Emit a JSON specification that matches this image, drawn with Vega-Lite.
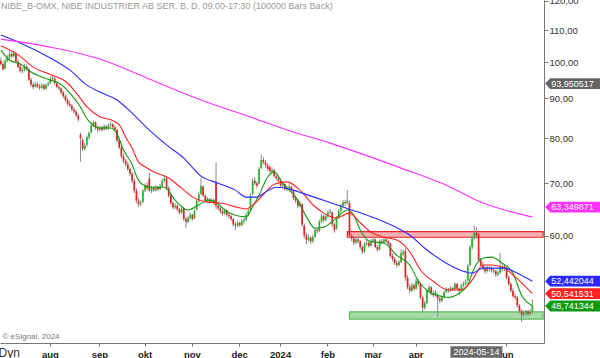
{
"$schema":"https://vega.github.io/schema/vega-lite/v6.json",
"width":544,"height":343,
"autosize":{"type":"none"},
"padding":{"left":0,"top":0,"right":56,"bottom":15},
"background":"white",
"title":{"text":"NIBE_B-OMX, NIBE INDUSTRIER AB SER. B, D, 09:00-17:30 (100000 Bars Back)","anchor":"start","frame":"group","offset":-15,"fontSize":9,"fontWeight":"normal","color":"#9a9a9a","font":"Liberation Sans","dx":1},
"config":{"view":{"stroke":null},"font":"Liberation Sans"},
"datasets":{
"px":[
{"d":"2023-06-29","o":100.5,"h":101.5,"l":99.0,"c":99.5},
{"d":"2023-06-30","o":99.5,"h":100.2,"l":97.6,"c":98.0},
{"d":"2023-07-03","o":98.2,"h":101.0,"l":98.0,"c":100.5},
{"d":"2023-07-04","o":100.5,"h":102.2,"l":100.0,"c":101.5},
{"d":"2023-07-05","o":101.5,"h":103.4,"l":101.0,"c":102.5},
{"d":"2023-07-06","o":102.5,"h":103.0,"l":101.2,"c":101.8},
{"d":"2023-07-07","o":101.8,"h":103.6,"l":101.5,"c":102.8},
{"d":"2023-07-10","o":102.6,"h":103.0,"l":99.8,"c":100.2},
{"d":"2023-07-11","o":100.2,"h":100.8,"l":98.2,"c":98.6},
{"d":"2023-07-12","o":98.8,"h":99.5,"l":97.0,"c":97.5},
{"d":"2023-07-13","o":97.5,"h":98.6,"l":96.8,"c":97.8},
{"d":"2023-07-14","o":97.8,"h":99.6,"l":97.4,"c":98.8},
{"d":"2023-07-17","o":98.8,"h":99.4,"l":97.6,"c":98.2},
{"d":"2023-07-18","o":98.0,"h":98.3,"l":94.6,"c":95.0},
{"d":"2023-07-19","o":95.0,"h":95.6,"l":93.0,"c":93.6},
{"d":"2023-07-20","o":93.6,"h":94.2,"l":92.4,"c":93.0},
{"d":"2023-07-21","o":93.0,"h":94.5,"l":92.8,"c":93.8},
{"d":"2023-07-24","o":93.8,"h":94.3,"l":92.7,"c":93.2},
{"d":"2023-07-25","o":93.2,"h":93.8,"l":92.2,"c":92.8},
{"d":"2023-07-26","o":92.8,"h":94.0,"l":92.5,"c":93.4},
{"d":"2023-07-27","o":93.4,"h":93.9,"l":92.0,"c":92.5},
{"d":"2023-07-28","o":92.5,"h":94.0,"l":92.3,"c":93.6},
{"d":"2023-07-31","o":93.6,"h":94.6,"l":93.2,"c":94.0},
{"d":"2023-08-01","o":94.0,"h":95.9,"l":93.8,"c":95.2},
{"d":"2023-08-02","o":95.2,"h":96.4,"l":94.8,"c":95.6},
{"d":"2023-08-03","o":95.4,"h":95.7,"l":93.6,"c":94.0},
{"d":"2023-08-04","o":94.0,"h":94.6,"l":92.6,"c":93.0},
{"d":"2023-08-07","o":93.0,"h":93.6,"l":92.0,"c":92.6},
{"d":"2023-08-08","o":92.6,"h":92.9,"l":91.0,"c":91.5},
{"d":"2023-08-09","o":91.5,"h":92.0,"l":90.0,"c":90.5},
{"d":"2023-08-10","o":90.5,"h":91.0,"l":89.0,"c":89.5},
{"d":"2023-08-11","o":89.5,"h":90.0,"l":88.0,"c":88.5},
{"d":"2023-08-14","o":88.5,"h":89.3,"l":87.5,"c":88.0},
{"d":"2023-08-15","o":88.0,"h":88.4,"l":86.6,"c":87.0},
{"d":"2023-08-16","o":87.0,"h":87.6,"l":86.0,"c":86.5},
{"d":"2023-08-17","o":86.5,"h":86.9,"l":85.0,"c":85.5},
{"d":"2023-08-18","o":85.5,"h":86.0,"l":84.0,"c":84.5},
{"d":"2023-08-21","o":80.8,"h":81.3,"l":74.6,"c":80.0},
{"d":"2023-08-22","o":79.5,"h":80.0,"l":77.0,"c":77.5},
{"d":"2023-08-23","o":77.5,"h":78.8,"l":77.0,"c":78.2},
{"d":"2023-08-24","o":78.4,"h":80.6,"l":78.0,"c":80.2},
{"d":"2023-08-25","o":80.2,"h":81.6,"l":79.6,"c":81.2},
{"d":"2023-08-28","o":81.4,"h":83.4,"l":81.0,"c":83.0},
{"d":"2023-08-29","o":83.0,"h":84.3,"l":82.6,"c":83.8},
{"d":"2023-08-30","o":83.8,"h":84.0,"l":82.0,"c":82.5},
{"d":"2023-08-31","o":82.5,"h":83.0,"l":81.4,"c":82.0},
{"d":"2023-09-01","o":82.0,"h":83.0,"l":81.6,"c":82.5},
{"d":"2023-09-04","o":82.5,"h":82.9,"l":81.5,"c":82.0},
{"d":"2023-09-05","o":82.0,"h":83.3,"l":81.8,"c":82.8},
{"d":"2023-09-06","o":82.8,"h":83.2,"l":81.9,"c":82.3},
{"d":"2023-09-07","o":82.3,"h":83.5,"l":82.0,"c":83.0},
{"d":"2023-09-08","o":83.0,"h":84.0,"l":82.7,"c":83.3},
{"d":"2023-09-11","o":83.3,"h":83.6,"l":82.2,"c":82.6},
{"d":"2023-09-12","o":82.6,"h":83.0,"l":81.6,"c":82.0},
{"d":"2023-09-13","o":82.0,"h":82.2,"l":79.0,"c":79.5},
{"d":"2023-09-14","o":79.5,"h":80.0,"l":77.4,"c":77.8},
{"d":"2023-09-15","o":77.8,"h":78.2,"l":75.4,"c":75.8},
{"d":"2023-09-18","o":75.8,"h":76.4,"l":74.3,"c":74.8},
{"d":"2023-09-19","o":74.8,"h":75.2,"l":73.5,"c":74.0},
{"d":"2023-09-20","o":74.0,"h":74.5,"l":72.6,"c":73.0},
{"d":"2023-09-21","o":73.0,"h":73.4,"l":71.5,"c":72.0},
{"d":"2023-09-22","o":72.0,"h":72.4,"l":70.0,"c":70.5},
{"d":"2023-09-25","o":70.5,"h":71.0,"l":68.0,"c":68.5},
{"d":"2023-09-26","o":68.5,"h":69.0,"l":66.0,"c":66.5},
{"d":"2023-09-27","o":66.5,"h":67.0,"l":65.3,"c":65.8},
{"d":"2023-09-28","o":65.8,"h":66.6,"l":65.4,"c":66.0},
{"d":"2023-09-29","o":66.2,"h":68.8,"l":66.0,"c":68.5},
{"d":"2023-10-02","o":68.5,"h":70.0,"l":68.2,"c":69.5},
{"d":"2023-10-03","o":69.5,"h":70.2,"l":68.6,"c":69.0},
{"d":"2023-10-04","o":71.0,"h":72.2,"l":68.2,"c":68.5},
{"d":"2023-10-05","o":68.5,"h":69.5,"l":68.0,"c":69.0},
{"d":"2023-10-06","o":69.0,"h":69.4,"l":68.2,"c":68.6},
{"d":"2023-10-09","o":68.6,"h":69.6,"l":68.3,"c":69.2},
{"d":"2023-10-10","o":69.2,"h":69.5,"l":68.4,"c":68.8},
{"d":"2023-10-11","o":68.8,"h":69.9,"l":68.6,"c":69.4},
{"d":"2023-10-12","o":69.4,"h":71.0,"l":69.2,"c":70.5},
{"d":"2023-10-13","o":70.5,"h":71.6,"l":70.2,"c":71.0},
{"d":"2023-10-16","o":71.0,"h":71.3,"l":68.7,"c":69.0},
{"d":"2023-10-17","o":69.0,"h":69.4,"l":67.1,"c":67.5},
{"d":"2023-10-18","o":67.5,"h":67.9,"l":65.6,"c":66.0},
{"d":"2023-10-19","o":66.0,"h":66.4,"l":64.8,"c":65.2},
{"d":"2023-10-20","o":65.2,"h":66.0,"l":64.9,"c":65.5},
{"d":"2023-10-23","o":65.5,"h":65.8,"l":64.4,"c":64.8},
{"d":"2023-10-24","o":64.8,"h":65.1,"l":63.8,"c":64.2},
{"d":"2023-10-25","o":64.2,"h":65.5,"l":64.0,"c":65.0},
{"d":"2023-10-26","o":65.0,"h":65.2,"l":62.6,"c":63.0},
{"d":"2023-10-27","o":63.0,"h":63.4,"l":61.4,"c":62.5},
{"d":"2023-10-30","o":62.5,"h":63.6,"l":62.2,"c":63.2},
{"d":"2023-10-31","o":63.2,"h":64.2,"l":62.9,"c":63.8},
{"d":"2023-11-01","o":63.8,"h":64.0,"l":62.7,"c":63.0},
{"d":"2023-11-02","o":63.2,"h":64.9,"l":63.0,"c":64.5},
{"d":"2023-11-03","o":64.8,"h":66.9,"l":64.6,"c":66.5},
{"d":"2023-11-06","o":66.5,"h":68.2,"l":66.2,"c":67.8},
{"d":"2023-11-07","o":67.8,"h":71.0,"l":67.6,"c":69.5},
{"d":"2023-11-08","o":69.3,"h":69.6,"l":67.2,"c":67.5},
{"d":"2023-11-09","o":67.5,"h":67.8,"l":66.2,"c":66.5},
{"d":"2023-11-10","o":66.5,"h":67.2,"l":66.1,"c":66.8},
{"d":"2023-11-13","o":66.8,"h":67.0,"l":65.9,"c":66.2},
{"d":"2023-11-14","o":66.2,"h":67.0,"l":66.0,"c":66.6},
{"d":"2023-11-15","o":66.6,"h":66.9,"l":65.7,"c":66.0},
{"d":"2023-11-16","o":70.3,"h":74.5,"l":64.9,"c":65.5},
{"d":"2023-11-17","o":65.5,"h":66.3,"l":64.6,"c":65.0},
{"d":"2023-11-20","o":65.0,"h":65.4,"l":64.0,"c":64.5},
{"d":"2023-11-21","o":64.5,"h":64.8,"l":63.6,"c":64.0},
{"d":"2023-11-22","o":64.0,"h":65.0,"l":63.8,"c":64.6},
{"d":"2023-11-23","o":64.6,"h":64.9,"l":63.4,"c":63.8},
{"d":"2023-11-24","o":63.8,"h":64.1,"l":63.1,"c":63.5},
{"d":"2023-11-27","o":63.5,"h":63.8,"l":62.6,"c":63.0},
{"d":"2023-11-28","o":63.0,"h":63.2,"l":61.6,"c":62.0},
{"d":"2023-11-29","o":62.0,"h":62.4,"l":61.0,"c":61.8},
{"d":"2023-11-30","o":61.8,"h":62.7,"l":61.5,"c":62.3},
{"d":"2023-12-01","o":62.3,"h":62.5,"l":61.5,"c":61.9},
{"d":"2023-12-04","o":61.9,"h":63.0,"l":61.6,"c":62.6},
{"d":"2023-12-05","o":62.6,"h":63.2,"l":62.1,"c":62.8},
{"d":"2023-12-06","o":62.8,"h":64.2,"l":62.6,"c":63.8},
{"d":"2023-12-07","o":63.8,"h":64.9,"l":63.5,"c":64.5},
{"d":"2023-12-08","o":64.6,"h":68.0,"l":64.4,"c":67.5},
{"d":"2023-12-11","o":67.8,"h":71.0,"l":67.6,"c":70.5},
{"d":"2023-12-12","o":70.5,"h":71.2,"l":69.6,"c":70.0},
{"d":"2023-12-13","o":70.0,"h":70.4,"l":69.0,"c":69.5},
{"d":"2023-12-14","o":70.0,"h":73.4,"l":69.8,"c":73.0},
{"d":"2023-12-15","o":73.2,"h":76.2,"l":73.0,"c":75.0},
{"d":"2023-12-18","o":75.0,"h":75.6,"l":74.0,"c":74.5},
{"d":"2023-12-19","o":74.5,"h":75.0,"l":73.3,"c":73.8},
{"d":"2023-12-20","o":73.8,"h":74.2,"l":72.6,"c":73.0},
{"d":"2023-12-21","o":73.4,"h":73.8,"l":72.2,"c":72.5},
{"d":"2023-12-22","o":72.5,"h":73.4,"l":72.2,"c":72.8},
{"d":"2023-12-27","o":72.8,"h":73.0,"l":71.2,"c":71.5},
{"d":"2023-12-28","o":71.5,"h":72.0,"l":70.6,"c":71.0},
{"d":"2023-12-29","o":71.0,"h":71.4,"l":70.2,"c":70.5},
{"d":"2024-01-02","o":70.5,"h":71.0,"l":69.2,"c":69.5},
{"d":"2024-01-03","o":69.5,"h":70.3,"l":69.0,"c":69.8},
{"d":"2024-01-04","o":69.8,"h":70.0,"l":68.5,"c":68.8},
{"d":"2024-01-05","o":68.8,"h":69.5,"l":68.4,"c":69.0},
{"d":"2024-01-08","o":69.0,"h":69.8,"l":68.7,"c":69.3},
{"d":"2024-01-09","o":69.3,"h":69.5,"l":68.1,"c":68.5},
{"d":"2024-01-10","o":68.5,"h":68.7,"l":66.6,"c":67.0},
{"d":"2024-01-11","o":67.0,"h":67.4,"l":66.0,"c":66.5},
{"d":"2024-01-12","o":66.5,"h":66.8,"l":65.1,"c":65.5},
{"d":"2024-01-15","o":65.5,"h":66.3,"l":65.2,"c":65.8},
{"d":"2024-01-16","o":65.8,"h":66.0,"l":61.6,"c":62.0},
{"d":"2024-01-17","o":61.8,"h":62.2,"l":59.5,"c":60.0},
{"d":"2024-01-18","o":60.0,"h":60.5,"l":58.5,"c":59.2},
{"d":"2024-01-19","o":59.2,"h":60.2,"l":58.9,"c":59.6},
{"d":"2024-01-22","o":59.6,"h":59.9,"l":58.5,"c":59.0},
{"d":"2024-01-23","o":59.0,"h":60.2,"l":58.7,"c":59.8},
{"d":"2024-01-24","o":59.8,"h":61.3,"l":59.6,"c":61.0},
{"d":"2024-01-25","o":61.0,"h":61.4,"l":60.4,"c":60.8},
{"d":"2024-01-26","o":60.8,"h":62.9,"l":60.6,"c":62.5},
{"d":"2024-01-29","o":62.5,"h":64.0,"l":62.2,"c":63.5},
{"d":"2024-01-30","o":63.5,"h":63.8,"l":62.4,"c":62.8},
{"d":"2024-01-31","o":62.8,"h":63.9,"l":62.6,"c":63.5},
{"d":"2024-02-01","o":63.5,"h":64.6,"l":63.2,"c":64.2},
{"d":"2024-02-02","o":64.2,"h":64.9,"l":63.9,"c":64.4},
{"d":"2024-02-05","o":64.2,"h":64.4,"l":61.6,"c":62.0},
{"d":"2024-02-06","o":62.0,"h":62.3,"l":60.5,"c":61.0},
{"d":"2024-02-07","o":61.2,"h":63.5,"l":61.0,"c":63.2},
{"d":"2024-02-08","o":63.2,"h":64.9,"l":63.0,"c":64.5},
{"d":"2024-02-09","o":64.5,"h":65.9,"l":64.2,"c":65.5},
{"d":"2024-02-12","o":65.5,"h":66.6,"l":65.2,"c":66.2},
{"d":"2024-02-13","o":66.2,"h":66.7,"l":65.5,"c":66.0},
{"d":"2024-02-14","o":66.0,"h":68.6,"l":65.8,"c":66.5},
{"d":"2024-02-15","o":66.0,"h":66.5,"l":59.5,"c":60.0},
{"d":"2024-02-16","o":60.0,"h":60.4,"l":59.0,"c":59.5},
{"d":"2024-02-19","o":59.5,"h":59.9,"l":58.3,"c":58.8},
{"d":"2024-02-20","o":58.8,"h":59.7,"l":58.5,"c":59.3},
{"d":"2024-02-21","o":59.3,"h":59.6,"l":58.6,"c":59.0},
{"d":"2024-02-22","o":59.0,"h":59.2,"l":57.6,"c":58.0},
{"d":"2024-02-23","o":58.0,"h":58.3,"l":56.8,"c":57.2},
{"d":"2024-02-26","o":57.2,"h":58.9,"l":57.0,"c":58.5},
{"d":"2024-02-27","o":58.5,"h":59.2,"l":58.2,"c":58.7},
{"d":"2024-02-28","o":58.7,"h":59.0,"l":57.9,"c":58.2},
{"d":"2024-02-29","o":58.2,"h":59.4,"l":58.0,"c":59.0},
{"d":"2024-03-01","o":59.0,"h":59.8,"l":58.7,"c":59.3},
{"d":"2024-03-04","o":59.3,"h":59.5,"l":57.8,"c":58.0},
{"d":"2024-03-05","o":58.0,"h":58.3,"l":57.2,"c":57.5},
{"d":"2024-03-06","o":57.6,"h":59.3,"l":57.4,"c":59.0},
{"d":"2024-03-07","o":59.0,"h":59.4,"l":58.5,"c":58.8},
{"d":"2024-03-08","o":58.8,"h":59.7,"l":58.5,"c":59.3},
{"d":"2024-03-11","o":59.3,"h":59.6,"l":58.7,"c":59.0},
{"d":"2024-03-12","o":59.0,"h":59.3,"l":58.3,"c":58.6},
{"d":"2024-03-13","o":58.6,"h":58.8,"l":56.2,"c":56.5},
{"d":"2024-03-14","o":56.5,"h":56.9,"l":55.6,"c":56.0},
{"d":"2024-03-15","o":56.0,"h":56.3,"l":55.0,"c":55.3},
{"d":"2024-03-18","o":55.3,"h":55.7,"l":54.6,"c":55.0},
{"d":"2024-03-19","o":55.0,"h":55.8,"l":54.8,"c":55.5},
{"d":"2024-03-20","o":55.5,"h":57.6,"l":55.3,"c":57.0},
{"d":"2024-03-21","o":56.8,"h":57.6,"l":56.5,"c":57.2},
{"d":"2024-03-22","o":57.3,"h":57.8,"l":52.5,"c":53.0},
{"d":"2024-03-25","o":53.0,"h":53.4,"l":51.2,"c":51.5},
{"d":"2024-03-26","o":51.5,"h":52.0,"l":50.6,"c":51.0},
{"d":"2024-03-27","o":51.0,"h":52.2,"l":50.8,"c":51.8},
{"d":"2024-03-28","o":51.8,"h":52.1,"l":51.0,"c":51.3},
{"d":"2024-04-02","o":51.3,"h":52.9,"l":51.1,"c":52.5},
{"d":"2024-04-03","o":52.5,"h":52.8,"l":51.7,"c":52.0},
{"d":"2024-04-04","o":52.0,"h":52.2,"l":49.7,"c":50.0},
{"d":"2024-04-05","o":50.0,"h":50.3,"l":47.8,"c":48.5},
{"d":"2024-04-08","o":48.5,"h":49.5,"l":48.2,"c":49.2},
{"d":"2024-04-09","o":49.2,"h":51.3,"l":49.0,"c":51.0},
{"d":"2024-04-10","o":51.0,"h":51.9,"l":50.7,"c":51.5},
{"d":"2024-04-11","o":51.5,"h":51.7,"l":50.3,"c":50.6},
{"d":"2024-04-12","o":50.6,"h":51.0,"l":50.0,"c":50.3},
{"d":"2024-04-15","o":50.3,"h":51.1,"l":50.1,"c":50.8},
{"d":"2024-04-16","o":50.2,"h":50.6,"l":47.2,"c":49.8},
{"d":"2024-04-17","o":49.8,"h":50.1,"l":49.1,"c":49.5},
{"d":"2024-04-18","o":49.5,"h":50.3,"l":49.3,"c":50.0},
{"d":"2024-04-19","o":50.0,"h":51.0,"l":49.8,"c":50.8},
{"d":"2024-04-22","o":50.8,"h":51.5,"l":50.6,"c":51.2},
{"d":"2024-04-23","o":51.2,"h":51.4,"l":50.7,"c":51.0},
{"d":"2024-04-24","o":51.0,"h":51.7,"l":50.8,"c":51.4},
{"d":"2024-04-25","o":51.4,"h":51.6,"l":50.9,"c":51.2},
{"d":"2024-04-26","o":51.2,"h":52.3,"l":51.0,"c":52.0},
{"d":"2024-04-29","o":52.0,"h":52.2,"l":51.1,"c":51.3},
{"d":"2024-04-30","o":51.3,"h":51.5,"l":50.3,"c":51.0},
{"d":"2024-05-02","o":51.0,"h":52.1,"l":50.8,"c":51.8},
{"d":"2024-05-03","o":51.8,"h":52.4,"l":51.5,"c":52.0},
{"d":"2024-05-06","o":52.0,"h":52.7,"l":51.8,"c":52.4},
{"d":"2024-05-07","o":52.6,"h":55.2,"l":52.4,"c":54.8},
{"d":"2024-05-08","o":55.0,"h":58.3,"l":54.8,"c":58.0},
{"d":"2024-05-10","o":58.0,"h":60.0,"l":57.6,"c":59.5},
{"d":"2024-05-13","o":59.5,"h":61.8,"l":59.2,"c":60.5},
{"d":"2024-05-14","o":60.5,"h":61.5,"l":59.4,"c":60.0},
{"d":"2024-05-15","o":60.3,"h":60.6,"l":55.5,"c":55.8},
{"d":"2024-05-16","o":55.8,"h":56.2,"l":54.6,"c":55.0},
{"d":"2024-05-17","o":55.0,"h":55.5,"l":54.2,"c":54.5},
{"d":"2024-05-20","o":54.5,"h":54.8,"l":53.6,"c":54.0},
{"d":"2024-05-21","o":54.0,"h":54.9,"l":53.8,"c":54.6},
{"d":"2024-05-22","o":54.6,"h":54.9,"l":54.0,"c":54.5},
{"d":"2024-05-23","o":54.5,"h":54.8,"l":53.8,"c":54.2},
{"d":"2024-05-24","o":54.2,"h":54.5,"l":53.7,"c":54.0},
{"d":"2024-05-27","o":54.0,"h":54.2,"l":53.1,"c":53.5},
{"d":"2024-05-28","o":53.5,"h":54.1,"l":53.2,"c":53.8},
{"d":"2024-05-29","o":53.8,"h":57.0,"l":53.5,"c":54.5},
{"d":"2024-05-30","o":54.3,"h":55.1,"l":54.0,"c":54.8},
{"d":"2024-05-31","o":54.8,"h":55.0,"l":54.0,"c":54.5},
{"d":"2024-06-03","o":54.5,"h":54.7,"l":52.7,"c":53.0},
{"d":"2024-06-04","o":53.0,"h":53.3,"l":51.7,"c":52.0},
{"d":"2024-06-05","o":52.0,"h":52.3,"l":50.7,"c":51.0},
{"d":"2024-06-07","o":51.0,"h":51.4,"l":49.9,"c":50.2},
{"d":"2024-06-10","o":50.2,"h":50.6,"l":49.6,"c":50.0},
{"d":"2024-06-11","o":50.0,"h":50.2,"l":48.5,"c":48.8},
{"d":"2024-06-12","o":48.8,"h":49.0,"l":47.7,"c":48.0},
{"d":"2024-06-13","o":48.0,"h":48.3,"l":46.5,"c":47.5},
{"d":"2024-06-14","o":47.5,"h":48.1,"l":47.2,"c":47.8},
{"d":"2024-06-17","o":47.8,"h":48.2,"l":47.4,"c":48.0},
{"d":"2024-06-18","o":48.0,"h":48.2,"l":47.3,"c":47.6},
{"d":"2024-06-19","o":47.6,"h":48.3,"l":47.4,"c":47.9},
{"d":"2024-06-20","o":47.9,"h":49.7,"l":47.6,"c":48.8}
],
"ma":[
{"d":"2023-06-29","s":"ma10","v":103.7},{"d":"2023-07-05","s":"ma10","v":100.7},{"d":"2023-07-12","s":"ma10","v":99.5},{"d":"2023-07-19","s":"ma10","v":97.2},{"d":"2023-08-01","s":"ma10","v":94.9},{"d":"2023-08-07","s":"ma10","v":94.1},{"d":"2023-08-14","s":"ma10","v":91.4},{"d":"2023-08-18","s":"ma10","v":88.5},{"d":"2023-08-25","s":"ma10","v":84.0},{"d":"2023-09-01","s":"ma10","v":82.4},{"d":"2023-09-08","s":"ma10","v":82.4},{"d":"2023-09-13","s":"ma10","v":81.0},{"d":"2023-09-18","s":"ma10","v":77.2},{"d":"2023-09-22","s":"ma10","v":74.0},{"d":"2023-09-26","s":"ma10","v":71.5},{"d":"2023-09-28","s":"ma10","v":70.0},{"d":"2023-10-05","s":"ma10","v":69.2},{"d":"2023-10-13","s":"ma10","v":69.2},{"d":"2023-10-20","s":"ma10","v":66.6},{"d":"2023-10-30","s":"ma10","v":64.7},{"d":"2023-11-06","s":"ma10","v":65.7},{"d":"2023-11-10","s":"ma10","v":66.6},{"d":"2023-11-16","s":"ma10","v":66.2},{"d":"2023-11-22","s":"ma10","v":64.7},{"d":"2023-11-29","s":"ma10","v":63.7},{"d":"2023-12-06","s":"ma10","v":63.4},{"d":"2023-12-11","s":"ma10","v":65.3},{"d":"2023-12-14","s":"ma10","v":67.6},{"d":"2023-12-20","s":"ma10","v":71.3},{"d":"2023-12-27","s":"ma10","v":72.4},{"d":"2024-01-03","s":"ma10","v":70.0},{"d":"2024-01-12","s":"ma10","v":66.6},{"d":"2024-01-18","s":"ma10","v":63.4},{"d":"2024-01-24","s":"ma10","v":61.3},{"d":"2024-01-30","s":"ma10","v":61.5},{"d":"2024-02-07","s":"ma10","v":63.2},{"d":"2024-02-14","s":"ma10","v":64.7},{"d":"2024-02-19","s":"ma10","v":63.7},{"d":"2024-02-22","s":"ma10","v":61.0},{"d":"2024-02-29","s":"ma10","v":58.9},{"d":"2024-03-08","s":"ma10","v":58.7},{"d":"2024-03-18","s":"ma10","v":56.6},{"d":"2024-03-26","s":"ma10","v":55.0},{"d":"2024-04-03","s":"ma10","v":52.5},{"d":"2024-04-10","s":"ma10","v":50.8},{"d":"2024-04-16","s":"ma10","v":50.3},{"d":"2024-04-23","s":"ma10","v":50.0},{"d":"2024-04-30","s":"ma10","v":50.6},{"d":"2024-05-07","s":"ma10","v":51.9},{"d":"2024-05-13","s":"ma10","v":54.5},{"d":"2024-05-17","s":"ma10","v":56.1},{"d":"2024-05-23","s":"ma10","v":56.3},{"d":"2024-05-30","s":"ma10","v":55.3},{"d":"2024-06-07","s":"ma10","v":53.7},{"d":"2024-06-13","s":"ma10","v":50.3},{"d":"2024-06-20","s":"ma10","v":48.741344},
{"d":"2023-06-29","s":"ma20","v":105.0},{"d":"2023-07-12","s":"ma20","v":101.8},{"d":"2023-07-20","s":"ma20","v":98.6},{"d":"2023-08-01","s":"ma20","v":96.5},{"d":"2023-08-11","s":"ma20","v":94.1},{"d":"2023-08-17","s":"ma20","v":91.4},{"d":"2023-08-24","s":"ma20","v":87.7},{"d":"2023-09-01","s":"ma20","v":85.2},{"d":"2023-09-08","s":"ma20","v":84.4},{"d":"2023-09-14","s":"ma20","v":83.2},{"d":"2023-09-19","s":"ma20","v":80.2},{"d":"2023-09-22","s":"ma20","v":77.6},{"d":"2023-09-27","s":"ma20","v":74.5},{"d":"2023-10-02","s":"ma20","v":73.5},{"d":"2023-10-06","s":"ma20","v":72.4},{"d":"2023-10-17","s":"ma20","v":71.1},{"d":"2023-10-25","s":"ma20","v":69.0},{"d":"2023-11-02","s":"ma20","v":67.0},{"d":"2023-11-10","s":"ma20","v":66.2},{"d":"2023-11-21","s":"ma20","v":66.0},{"d":"2023-11-29","s":"ma20","v":65.3},{"d":"2023-12-06","s":"ma20","v":64.9},{"d":"2023-12-12","s":"ma20","v":66.0},{"d":"2023-12-19","s":"ma20","v":68.2},{"d":"2023-12-27","s":"ma20","v":69.8},{"d":"2024-01-05","s":"ma20","v":70.3},{"d":"2024-01-15","s":"ma20","v":68.6},{"d":"2024-01-23","s":"ma20","v":65.7},{"d":"2024-01-30","s":"ma20","v":64.1},{"d":"2024-02-07","s":"ma20","v":63.2},{"d":"2024-02-15","s":"ma20","v":64.1},{"d":"2024-02-22","s":"ma20","v":62.3},{"d":"2024-02-29","s":"ma20","v":60.6},{"d":"2024-03-08","s":"ma20","v":59.7},{"d":"2024-03-18","s":"ma20","v":59.2},{"d":"2024-03-26","s":"ma20","v":57.2},{"d":"2024-04-04","s":"ma20","v":54.2},{"d":"2024-04-12","s":"ma20","v":52.4},{"d":"2024-04-23","s":"ma20","v":51.1},{"d":"2024-04-30","s":"ma20","v":51.1},{"d":"2024-05-06","s":"ma20","v":51.5},{"d":"2024-05-10","s":"ma20","v":52.6},{"d":"2024-05-17","s":"ma20","v":55.0},{"d":"2024-05-23","s":"ma20","v":55.0},{"d":"2024-05-31","s":"ma20","v":54.5},{"d":"2024-06-10","s":"ma20","v":53.1},{"d":"2024-06-20","s":"ma20","v":50.541531},
{"d":"2023-06-29","s":"ma50","v":108.4},{"d":"2023-07-12","s":"ma50","v":105.9},{"d":"2023-08-01","s":"ma50","v":101.3},{"d":"2023-08-14","s":"ma50","v":97.8},{"d":"2023-08-24","s":"ma50","v":93.5},{"d":"2023-09-01","s":"ma50","v":91.6},{"d":"2023-09-13","s":"ma50","v":89.5},{"d":"2023-09-22","s":"ma50","v":86.1},{"d":"2023-10-04","s":"ma50","v":81.9},{"d":"2023-10-16","s":"ma50","v":78.4},{"d":"2023-10-26","s":"ma50","v":75.4},{"d":"2023-11-07","s":"ma50","v":71.5},{"d":"2023-11-17","s":"ma50","v":70.0},{"d":"2023-11-29","s":"ma50","v":68.6},{"d":"2023-12-06","s":"ma50","v":67.2},{"d":"2023-12-13","s":"ma50","v":67.2},{"d":"2023-12-19","s":"ma50","v":68.2},{"d":"2023-12-28","s":"ma50","v":69.2},{"d":"2024-01-10","s":"ma50","v":68.6},{"d":"2024-01-16","s":"ma50","v":68.0},{"d":"2024-01-25","s":"ma50","v":67.0},{"d":"2024-02-07","s":"ma50","v":65.7},{"d":"2024-02-21","s":"ma50","v":64.3},{"d":"2024-03-06","s":"ma50","v":62.8},{"d":"2024-03-20","s":"ma50","v":61.0},{"d":"2024-03-26","s":"ma50","v":60.1},{"d":"2024-04-08","s":"ma50","v":57.8},{"d":"2024-04-22","s":"ma50","v":55.3},{"d":"2024-05-06","s":"ma50","v":53.9},{"d":"2024-05-10","s":"ma50","v":53.7},{"d":"2024-05-17","s":"ma50","v":54.5},{"d":"2024-05-31","s":"ma50","v":54.5},{"d":"2024-06-11","s":"ma50","v":53.7},{"d":"2024-06-20","s":"ma50","v":52.442044},
{"d":"2023-06-29","s":"ma200","v":107.1},{"d":"2023-08-01","s":"ma200","v":104.6},{"d":"2023-09-01","s":"ma200","v":101.0},{"d":"2023-10-04","s":"ma200","v":95.2},{"d":"2023-11-07","s":"ma200","v":89.5},{"d":"2023-12-08","s":"ma200","v":85.1},{"d":"2024-01-05","s":"ma200","v":81.9},{"d":"2024-02-02","s":"ma200","v":78.8},{"d":"2024-03-20","s":"ma200","v":73.2},{"d":"2024-04-24","s":"ma200","v":69.2},{"d":"2024-05-14","s":"ma200","v":66.6},{"d":"2024-06-20","s":"ma200","v":63.349871}
],
"zr":[{"d":"2024-02-14","lo":59.7,"hi":60.7},{"d":"2024-06-24","lo":59.7,"hi":60.7},{"d":"2024-06-25","lo":59.7,"hi":60.7},{"d":"2024-06-26","lo":59.7,"hi":60.7},{"d":"2024-06-27","lo":59.7,"hi":60.7},{"d":"2024-06-28","lo":59.7,"hi":60.7}],
"zg":[{"d":"2024-02-15","lo":46.9,"hi":47.9},{"d":"2024-06-24","lo":46.9,"hi":47.9},{"d":"2024-06-25","lo":46.9,"hi":47.9},{"d":"2024-06-26","lo":46.9,"hi":47.9},{"d":"2024-06-27","lo":46.9,"hi":47.9},{"d":"2024-06-28","lo":46.9,"hi":47.9}],
"tags":[{"d":"2024-06-28","s":"cursor","v":93.950517,"t":"93,950517"},{"d":"2024-06-28","s":"ma200","v":63.349871,"t":"63,349871"},{"d":"2024-06-28","s":"ma50","v":52.442044,"t":"52,442044"},{"d":"2024-06-28","s":"ma20","v":50.541531,"t":"50,541531"},{"d":"2024-06-28","s":"ma10","v":48.741344,"t":"48,741344"}],
"cur":[{"d":"2024-05-14","t":"2024-05-14"}]
},
"encoding":{
"x":{"field":"d","type":"ordinal","title":"© eSignal, 2024",
"scale":{"type":"band","paddingInner":0.2,"paddingOuter":0},
"axis":{"values":["2023-08-01","2023-09-01","2023-10-02","2023-11-01","2023-12-01","2024-01-02","2024-02-01","2024-03-01","2024-04-02","2024-06-03"],
"labelExpr":"['2024','feb','mar','apr','maj','jun','jul','aug','sep','okt','nov','dec'][toNumber(substring(datum.value,5,7))-1]",
"labelAngle":0,"labelFontSize":9.5,"labelFontWeight":"bold","labelColor":"#222","labelPadding":3,"labelFont":"Liberation Sans",
"tickSize":3,"tickColor":"#777","domainColor":"#777","grid":false,
"titleX":2,"titleY":-5,"titleAlign":"left","titleAnchor":"start","titleBaseline":"alphabetic","titleFontSize":8,"titleFontWeight":"normal","titleColor":"#777","titleFont":"Liberation Sans"}}
},
"layer":[
{"data":{"name":"zr"},"mark":{"type":"area","fill":"#f7b0b0","fillOpacity":1,"stroke":"#e8222a","strokeWidth":1.2},
"encoding":{"y":{"field":"lo","type":"quantitative","title":"Dyn"},"y2":{"field":"hi"}}},
{"data":{"name":"zg"},"mark":{"type":"area","fill":"#a6dba6","fillOpacity":1,"stroke":"#5cbc5c","strokeWidth":1.2},
"encoding":{"y":{"field":"lo","type":"quantitative","title":"Dyn"},"y2":{"field":"hi"}}},
{"data":{"name":"px"},"mark":{"type":"rule","color":"#8a8a8a","strokeWidth":1},
"encoding":{"y":{"field":"l","type":"quantitative","title":"Dyn",
"scale":{"type":"log","domain":[43.7,120.2],"nice":false,"zero":false},
"axis":{"orient":"right","values":[60,70,80,90,100,110,120],"labelExpr":"replace(format(datum.value,'.2f'),'.',',')",
"labelFontSize":9.5,"labelColor":"#333","labelPadding":1,"labelFont":"Liberation Sans","tickSize":4,"tickColor":"#777","domainColor":"#777","grid":false,
"titleAngle":0,"titleX":-546,"titleY":352,"titleAlign":"left","titleBaseline":"middle","titleFontSize":12,"titleFontWeight":"normal","titleColor":"#333","titleFont":"Liberation Sans"}},
"y2":{"field":"h"}}},
{"data":{"name":"px"},"mark":{"type":"bar"},
"encoding":{"y":{"field":"o","type":"quantitative","title":"Dyn"},"y2":{"field":"c"},
"color":{"condition":{"test":"datum.c >= datum.o","value":"#2bb52b"},"value":"#e02424"}}},
{"data":{"name":"ma"},"mark":{"type":"line","strokeWidth":1.1,"interpolate":"monotone"},
"encoding":{"y":{"field":"v","type":"quantitative","title":"Dyn"},
"color":{"field":"s","type":"nominal","legend":null,"scale":{"domain":["ma10","ma20","ma50","ma200","cursor"],"range":["#119a11","#ff2020","#2a2aff","#ff30ff","#646464"]}},
"detail":{"field":"s"}}},
{"data":{"name":"tags"},"transform":[{"filter":"datum.s != 'ma200'"}],
"mark":{"type":"point","shape":"M-1,0L-0.83,-0.18L1,-0.18L1,0.18L-0.83,0.18Z","filled":true,"opacity":1,"size":3600,"xOffset":32},
"encoding":{"y":{"field":"v","type":"quantitative","title":"Dyn"},"color":{"field":"s","type":"nominal","legend":null}}},
{"data":{"name":"tags"},"transform":[{"filter":"datum.s != 'ma200'"}],
"mark":{"type":"text","align":"left","baseline":"middle","dx":8,"fontSize":9,"color":"white","font":"Liberation Sans"},
"encoding":{"y":{"field":"v","type":"quantitative","title":"Dyn"},"text":{"field":"t"}}},
{"data":{"name":"tags"},"transform":[{"filter":"datum.s == 'ma200'"}],
"mark":{"type":"point","shape":"M-1,0L-0.83,-0.18L1,-0.18L1,0.18L-0.83,0.18Z","filled":true,"opacity":1,"size":3600,"xOffset":32,"yOffset":-10},
"encoding":{"y":{"field":"v","type":"quantitative","title":"Dyn"},"color":{"field":"s","type":"nominal","legend":null}}},
{"data":{"name":"tags"},"transform":[{"filter":"datum.s == 'ma200'"}],
"mark":{"type":"text","align":"left","baseline":"middle","dx":8,"dy":-10,"fontSize":9,"color":"white","font":"Liberation Sans"},
"encoding":{"y":{"field":"v","type":"quantitative","title":"Dyn"},"text":{"field":"t"}}},
{"data":{"name":"cur"},
"mark":{"type":"point","shape":"M-1,-0.22L1,-0.22L1,0.22L-1,0.22Z","filled":true,"opacity":1,"size":2704,"color":"#6a6a6a","yOffset":9},
"encoding":{"y":{"datum":43.7,"type":"quantitative","title":"Dyn"}}},
{"data":{"name":"cur"},
"mark":{"type":"text","align":"center","baseline":"middle","dy":9,"fontSize":9,"color":"white","font":"Liberation Sans"},
"encoding":{"y":{"datum":43.7,"type":"quantitative","title":"Dyn"},"text":{"field":"t"}}}
]
}
